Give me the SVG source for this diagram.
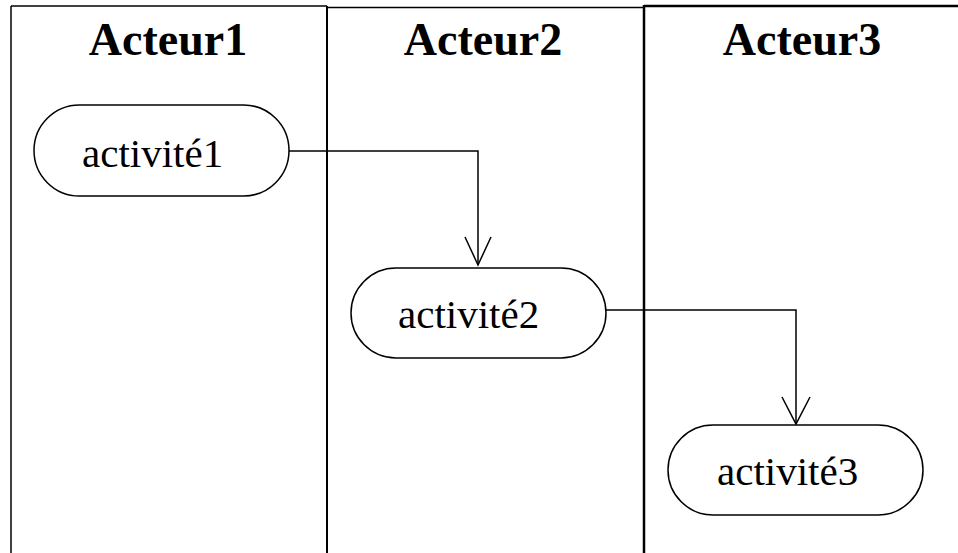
<svg xmlns="http://www.w3.org/2000/svg" width="958" height="553" viewBox="0 0 958 553">
<defs>
<style>
.lane{fill:none;stroke:#000;}
.hdr{font-family:"Liberation Serif","Times New Roman",serif;font-weight:bold;font-size:46px;text-anchor:middle;fill:#000;}
.act{fill:#fff;stroke:#000;stroke-width:1.5;}
.lbl{font-family:"Liberation Serif","Times New Roman",serif;font-size:41px;fill:#000;}
.conn{fill:none;stroke:#000;stroke-width:1.5;}
</style>
</defs>
<rect width="958" height="553" fill="#fff"/>
<g id="lanes">
<line class="lane" x1="11" y1="6" x2="327" y2="6" stroke-width="1.5"/>
<line class="lane" x1="327" y1="7.5" x2="644" y2="7.5" stroke-width="1.5"/>
<line class="lane" x1="644" y1="6" x2="958" y2="6" stroke-width="2.5"/>
<line class="lane" x1="11" y1="6" x2="11" y2="553" stroke-width="1.5"/>
<line class="lane" x1="327" y1="6" x2="327" y2="553" stroke-width="2"/>
<line class="lane" x1="644" y1="5" x2="644" y2="553" stroke-width="2.5"/>
<text class="hdr" x="168" y="55">Acteur1</text>
<text class="hdr" x="483" y="55">Acteur2</text>
<text class="hdr" x="802" y="55">Acteur3</text>
</g>
<g id="connectors">
<polyline class="conn" points="289,151 478,151 478,265"/>
<polyline class="conn" points="465,237 478,265 491,237"/>
<polyline class="conn" points="606,310 796,310 796,424"/>
<polyline class="conn" points="782,397 796,424 810,397"/>
</g>
<g id="activite1">
<rect class="act" x="34" y="105" width="255" height="91" rx="45.5"/>
<text class="lbl" x="82" y="167">activité1</text>
</g>
<g id="activite2">
<rect class="act" x="351" y="268" width="255" height="90" rx="45"/>
<text class="lbl" x="398" y="328">activité2</text>
</g>
<g id="activite3">
<rect class="act" x="668" y="425" width="255" height="90" rx="45"/>
<text class="lbl" x="717" y="485">activité3</text>
</g>
</svg>
